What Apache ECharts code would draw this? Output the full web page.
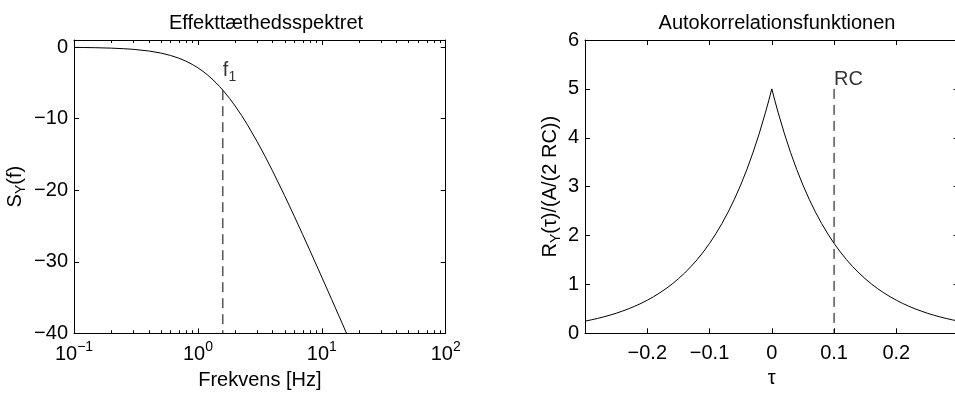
<!DOCTYPE html>
<html><head><meta charset="utf-8">
<script src="https://cdn.jsdelivr.net/npm/echarts@6/dist/echarts.min.js"></script>
<style>html,body{margin:0;padding:0;background:#fff;}#c{width:955px;height:397px;}</style>
</head><body><div id="c"></div>
<script>
// ---- Left panel: power spectral density (dB) vs frequency (log axis)
const freqHz = [0.1, 0.12, 0.15, 0.2, 0.25, 0.3, 0.4, 0.5, 0.6, 0.7, 0.8, 0.9, 1.0, 1.1, 1.2, 1.3, 1.4, 1.5, 1.6, 1.8, 2.0, 2.25, 2.5, 3.0, 3.5, 4, 5, 6, 7, 8, 10, 12, 14, 16];
const spectrumDb = [-0.034, -0.049, -0.077, -0.136, -0.212, -0.303, -0.532, -0.818, -1.155, -1.536, -1.957, -2.410, -2.890, -3.392, -3.910, -4.440, -4.978, -5.522, -6.067, -7.156, -8.230, -9.54, -10.80, -13.17, -15.32, -17.29, -20.72, -23.64, -26.17, -28.39, -32.15, -35.25, -37.88, -40.18];
const f1MarkerX = [1.59, 1.59];
const f1MarkerY = [-6.02, -40];
const f1LabelPos = [1.59, -3.3];
const leftMinorTicks = [0.2,0.3,0.4,0.5,0.6,0.7,0.8,0.9, 2,3,4,5,6,7,8,9, 20,30,40,50,60,70,80,90];

// ---- Right panel: autocorrelation
const tau = [-0.30,-0.29,-0.28,-0.27,-0.26,-0.25,-0.24,-0.23,-0.22,-0.21,-0.20,-0.19,-0.18,-0.17,-0.16,-0.15,-0.14,-0.13,-0.12,-0.11,-0.10,-0.09,-0.08,-0.07,-0.06,-0.05,-0.04,-0.03,-0.02,-0.01,-0.005,0,0.005,0.01,0.02,0.03,0.04,0.05,0.06,0.07,0.08,0.09,0.10,0.11,0.12,0.13,0.14,0.15,0.16,0.17,0.18,0.19,0.20,0.21,0.22,0.23,0.24,0.25,0.26,0.27,0.28,0.29,0.30];
const autocorr = [0.249,0.275,0.304,0.336,0.371,0.410,0.454,0.501,0.554,0.612,0.677,0.748,0.827,0.913,1.009,1.116,1.233,1.363,1.506,1.664,1.839,2.033,2.247,2.483,2.744,3.033,3.352,3.704,4.094,4.524,4.756,5.0,4.756,4.524,4.094,3.704,3.352,3.033,2.744,2.483,2.247,2.033,1.839,1.664,1.506,1.363,1.233,1.116,1.009,0.913,0.827,0.748,0.677,0.612,0.554,0.501,0.454,0.410,0.371,0.336,0.304,0.275,0.249];
const rcMarkerX = [0.1, 0.1];
const rcMarkerY = [5.0, 0];
const rcLabelPos = [0.1, 5.2];

const titles = ['Effekttæthedsspektret', 'Autokorrelationsfunktionen'];

const FONT = '"Liberation Sans", Arial, Helvetica, sans-serif';
const FS = 20;
const LEFT_YMIN = -40, LEFT_YMAX = 1;
const minus = s => String(s).replace('-', '\u2212');
const txt = {color:'#000', fontFamily: FONT, fontSize: FS};
const richSub = {
  n: {fontFamily: FONT, fontSize: FS, color:'#000'},
  s: {fontFamily: FONT, fontSize: 14, color:'#000', padding:[12,0,0,0]}
};
const richSup = {
  n: {fontFamily: FONT, fontSize: FS, color:'#000'},
  sup: {fontFamily: FONT, fontSize: 14, color:'#000', padding:[0,0,14,0]}
};
const line = {show:true, onZero:false, lineStyle:{color:'#000', width:1}};
const tick = {show:true, inside:true, length:5, lineStyle:{color:'#000'}};

const chart = echarts.init(document.getElementById('c'), null, {renderer:'canvas'});
const G0 = {left:74, top:40, width:371.7, height:293.3, containLabel:false, outerBoundsMode:'none'};
const G1 = {left:585, top:40, width:373.6, height:293.3, containLabel:false, outerBoundsMode:'none'};

const logAxisBase = {type:'log', logBase:10, min:0.1, max:100, gridIndex:0, splitLine:{show:false}};
const option = {
  animation:false,
  backgroundColor:'#fff',
  title: [
    {text: titles[0], left: 261, top: 8, textAlign:'center', textStyle:{...txt, fontWeight:'normal'}},
    {text: titles[1], left: 772, top: 8, textAlign:'center', textStyle:{...txt, fontWeight:'normal'}}
  ],
  grid: [G0, G1],
  xAxis: [
    {...logAxisBase, position:'bottom', axisLine:line, axisTick:tick,
      axisLabel:{margin:7, formatter: v => { const e = Math.round(Math.log10(v)); return '{n|10}{sup|' + minus(e) + '}'; }, rich: richSup},
      name:'Frekvens [Hz]', nameLocation:'middle', nameGap:37, nameTextStyle:txt},
    {...logAxisBase, position:'top', axisLine:line, axisTick:tick, axisLabel:{show:false}},
    {type:'value', gridIndex:1, min:-0.3, max:0.3, interval:0.1, position:'bottom', axisLine:line, splitLine:{show:false},
      axisTick:tick,
      axisLabel:{...txt, margin:10, showMinLabel:false, showMaxLabel:false, formatter: v => minus(+v.toFixed(2))},
      name:'τ', nameLocation:'middle', nameGap:33, nameTextStyle:txt},
    {type:'value', gridIndex:1, min:-0.3, max:0.3, interval:0.1, position:'top', axisLine:line, splitLine:{show:false},
      axisTick:tick, axisLabel:{show:false}}
  ],
  yAxis: [
    {type:'value', gridIndex:0, min:LEFT_YMIN, max:LEFT_YMAX, interval:10, position:'left', axisLine:line, splitLine:{show:false},
      axisTick:tick,
      axisLabel:{...txt, margin:6, showMaxLabel:false, formatter: v => minus(v)},
      name:'{n|S}{s|Y}{n|(f)}', nameLocation:'middle', nameRotate:90, nameGap:46, nameTextStyle:{...txt, rich: richSub}},
    {type:'value', gridIndex:0, min:LEFT_YMIN, max:LEFT_YMAX, interval:10, position:'right', axisLine:line, splitLine:{show:false},
      axisTick:tick, axisLabel:{show:false}},
    {type:'value', gridIndex:1, min:0, max:6, interval:1, position:'left', axisLine:line, splitLine:{show:false},
      axisTick:tick,
      axisLabel:{...txt, margin:6},
      name:'{n|R}{s|Y}{n|(τ)/(A/(2 RC))}', nameLocation:'middle', nameRotate:90, nameGap:22, nameTextStyle:{...txt, rich: richSub}},
    {type:'value', gridIndex:1, min:0, max:6, interval:1, position:'right', axisLine:line, splitLine:{show:false},
      axisTick:tick, axisLabel:{show:false}}
  ],
  series: [
    // minor log ticks (top & bottom) placed through the log axis scale
    {type:'custom', xAxisIndex:0, yAxisIndex:0, silent:true, clip:false,
      data: leftMinorTicks.map(v => [v, LEFT_YMIN]),
      renderItem: (params, api) => {
        const x = api.value(0);
        const t = api.coord([x, LEFT_YMAX]);
        const b = api.coord([x, LEFT_YMIN]);
        const px = Math.round(t[0]) + 0.5;
        return {type:'group', children:[
          {type:'line', shape:{x1:px, y1:t[1], x2:px, y2:t[1]+3}, style:{stroke:'#000', lineWidth:1}},
          {type:'line', shape:{x1:px, y1:b[1], x2:px, y2:b[1]-3}, style:{stroke:'#000', lineWidth:1}}
        ]};
      }},
    {type:'line', xAxisIndex:0, yAxisIndex:0, showSymbol:false, clip:true,
      lineStyle:{color:'#000', width:1}, data: freqHz.map((f,i)=>[f, spectrumDb[i]])},
    {type:'line', xAxisIndex:0, yAxisIndex:0, showSymbol:false, lineStyle:{color:'#000', width:1, type:[10,6]},
      data: f1MarkerX.map((x,i)=>[x, f1MarkerY[i]])},
    {type:'scatter', xAxisIndex:0, yAxisIndex:0, symbolSize:0, silent:true,
      label:{show:true, position:'right', distance:0, formatter:'{n|f}{s|1}', rich: richSub},
      data:[f1LabelPos]},
    {type:'line', xAxisIndex:2, yAxisIndex:2, showSymbol:false, clip:true,
      lineStyle:{color:'#000', width:1}, data: tau.map((t,i)=>[t, autocorr[i]])},
    {type:'line', xAxisIndex:2, yAxisIndex:2, showSymbol:false, lineStyle:{color:'#000', width:1, type:[10,6]},
      data: rcMarkerX.map((x,i)=>[x, rcMarkerY[i]])},
    {type:'scatter', xAxisIndex:2, yAxisIndex:2, symbolSize:0, silent:true,
      label:{show:true, position:'right', distance:0, formatter:'RC', ...txt},
      data:[rcLabelPos]}
  ]
};
chart.setOption(option);
</script>
</body></html>
